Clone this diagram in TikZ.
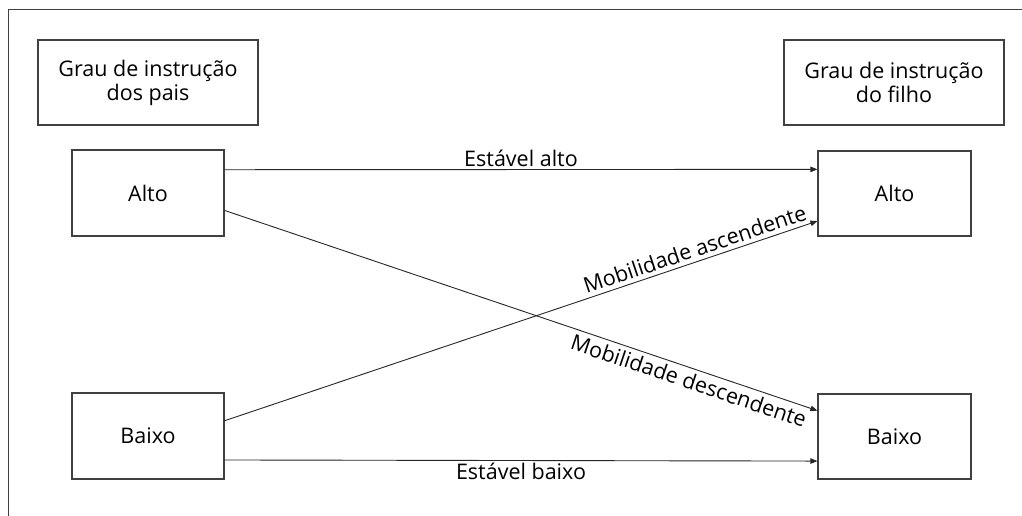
\documentclass[tikz,border=0pt]{standalone}
\usepackage{fontspec}
\setmainfont{Open Sans}
\usetikzlibrary{arrows.meta,calc}
\begin{document}
\begin{tikzpicture}[x=1pt,y=-1pt,
  box/.style={draw=black!75,line width=1.2pt,fill=white,inner sep=0pt,align=center,
    font=\fontsize{21.5}{24}\selectfont},
  conn/.style={draw=black!85,line width=0.9pt,-{Triangle[length=7pt,width=5.5pt]}},
  lbl/.style={font=\fontsize{21.5}{24}\selectfont,text=black,inner sep=2.5pt},
  slbl/.style={lbl,sloped,inner sep=4pt}]
\useasboundingbox (0,0) rectangle (1022,516);
\fill[white] (0,0) rectangle (1022,516);
\coordinate (fbl) at (8,516);
\coordinate (ftl) at (8,10);
\coordinate (ftr) at (1022,10);
\draw[black!75,line width=1pt] (fbl) -- (ftl) -- (ftr);

\node[box,minimum width=220pt,minimum height=85pt] (pais) at (148,82.5) {Grau de instrução\\dos pais};
\node[box,minimum width=220pt,minimum height=85pt] (filho) at (894,82.5) {Grau de instrução\\do filho};
\node[box,minimum width=152pt,minimum height=86pt] (altoL) at (148,193) {Alto};
\node[box,minimum width=152pt,minimum height=86pt] (baixoL) at (148,436) {Baixo};
\node[box,minimum width=153pt,minimum height=85pt] (altoR) at (894.5,193.5) {Alto};
\node[box,minimum width=153pt,minimum height=85pt] (baixoR) at (894.5,436.5) {Baixo};

\draw[conn] ($(altoL.north east)!0.233!(altoL.south east)$) -- node[lbl,above,pos=0.5] {Estável alto}
  ($(altoR.north west)!0.22!(altoR.south west)$);
\draw[conn] ($(baixoL.north east)!0.775!(baixoL.south east)$) -- node[lbl,below,pos=0.5] {Estável baixo}
  ($(baixoR.north west)!0.785!(baixoR.south west)$);
\draw[conn] ($(baixoL.north east)!0.325!(baixoL.south east)$) -- node[slbl,above,pos=0.8] {Mobilidade ascendente}
  ($(altoR.north west)!0.82!(altoR.south west)$);
\draw[conn] ($(altoL.north east)!0.70!(altoL.south east)$) -- node[slbl,below,pos=0.79] {Mobilidade descendente}
  ($(baixoR.north west)!0.20!(baixoR.south west)$);
\end{tikzpicture}
\end{document}
